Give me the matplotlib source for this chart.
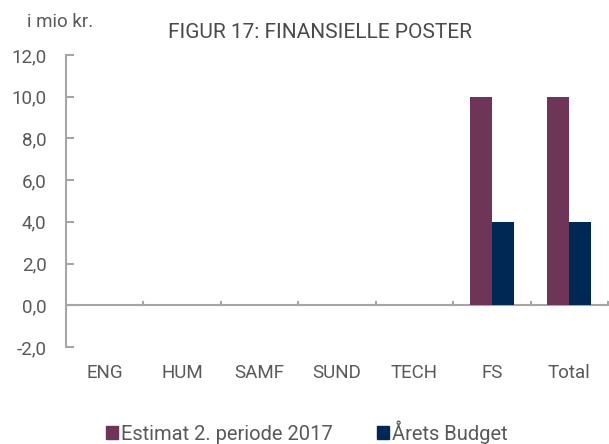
import matplotlib
matplotlib.use("Agg")
import matplotlib.pyplot as plt
import numpy as np
from matplotlib.patches import Patch

categories = ["ENG", "HUM", "SAMF", "SUND", "TECH", "FS", "Total"]
estimat = [0, 0, 0, 0, 0, 10.0, 10.0]
budget = [0, 0, 0, 0, 0, 4.0, 4.0]
series_names = ["Estimat 2. periode 2017", "Årets Budget"]
yticks = [-2, 0, 2, 4, 6, 8, 10, 12]

c1 = "#6E3559"
c2 = "#002855"
axis_col = "#a6a6a6"
txt_col = "#595959"

plt.rcParams['font.family'] = ['Roboto', 'DejaVu Sans']

fig = plt.figure(figsize=(6.09, 4.44), dpi=100)
W, H = 609, 444
ax = fig.add_axes([66/W, 1-347/H, (608-66)/W, (347-55)/H])

x = np.arange(len(categories))
bw = 0.286
ax.bar(x - bw/2, estimat, width=bw, color=c1, zorder=3)
ax.bar(x + bw/2, budget, width=bw, color=c2, zorder=3)

ax.set_xlim(-0.5, len(categories) - 0.5)
ax.set_ylim(-2, 12)

for s in ["top", "right", "bottom"]:
    ax.spines[s].set_visible(False)
ax.spines["left"].set_color(axis_col)
ax.spines["left"].set_linewidth(1.5)

ax.axhline(0, color=axis_col, linewidth=1.5, zorder=2)
for b in np.arange(0.5, len(categories), 1.0):
    ax.plot([b, b], [0, 0.16], color=axis_col, linewidth=1.5, zorder=2, clip_on=False)

ax.set_yticks(yticks)
ax.set_yticklabels([f"{v:.1f}".replace(".", ",") for v in yticks], fontsize=13.5, color=txt_col)
ax.tick_params(axis='y', direction='in', length=6, width=1.5, color=axis_col, pad=14)
ax.set_xticks(x)
ax.set_xticklabels(categories, fontsize=13.5, color=txt_col)
ax.tick_params(axis='x', length=0, pad=12)

fig.text(60/W, 1-22/H, "i mio kr.", fontsize=13.5, color=txt_col, ha='center', va='center')
fig.text(320/W, 1-33/H, "FIGUR 17: FINANSIELLE POSTER", fontsize=15, color="#4a4a4a",
         ha='center', va='center')

handles = [Patch(color=c1, label=series_names[0]), Patch(color=c2, label=series_names[1])]
leg = fig.legend(handles=handles, loc='center', bbox_to_anchor=(307/W, 1-432/H), ncol=2,
                 frameon=False, fontsize=14.5, handlelength=0.6, handleheight=0.6,
                 handletextpad=0.15, columnspacing=2.2)
for t in leg.get_texts():
    t.set_color(txt_col)

fig.savefig("out.png", dpi=100)
